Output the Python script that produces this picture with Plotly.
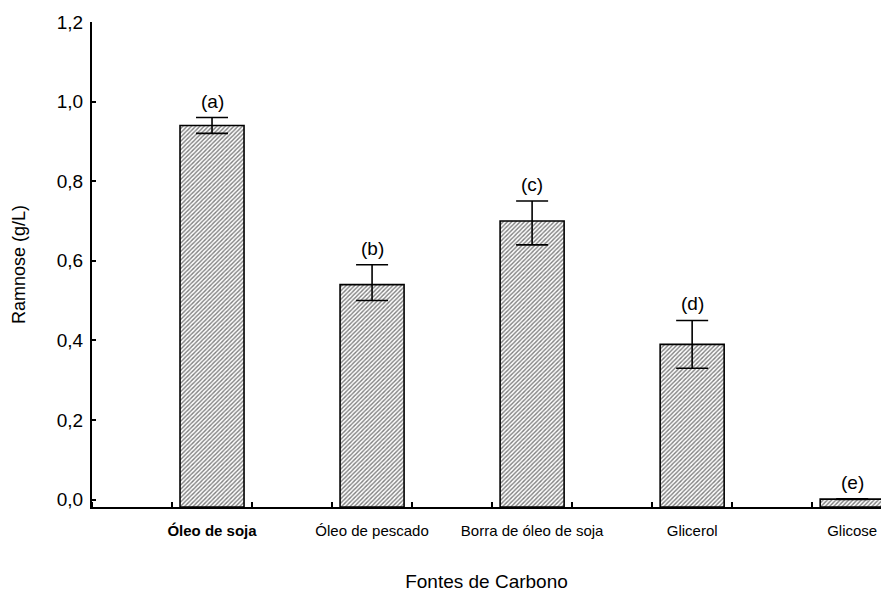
import plotly.graph_objects as go

categories = ["Óleo de soja", "Óleo de pescado", "Borra de óleo de soja", "Glicerol", "Glicose"]
tick_labels = ["<b>Óleo de soja</b>", "Óleo de pescado", "Borra de óleo de soja", "Glicerol", "Glicose"]
values = [0.94, 0.54, 0.70, 0.39, 0.001]
err_plus = [0.02, 0.05, 0.05, 0.06, 0.001]
err_minus = [0.02, 0.04, 0.06, 0.06, 0.001]
letters = ["(a)", "(b)", "(c)", "(d)", "(e)"]
y_ticks = [0.0, 0.2, 0.4, 0.6, 0.8, 1.0, 1.2]

YMIN = -0.0188
YMAX = 1.2
FONT = "Liberation Sans, Arial, sans-serif"

xs = list(range(len(categories)))

fig = go.Figure()
fig.add_trace(go.Bar(
    x=xs,
    y=[v - YMIN for v in values],
    base=YMIN,
    width=0.4,
    marker=dict(
        color="white",
        line=dict(color="black", width=1.6),
        pattern=dict(shape="/", size=3, solidity=0.45, fgcolor="black", bgcolor="white"),
    ),
    error_y=dict(type="data", array=err_plus, arrayminus=err_minus, symmetric=False,
                 color="black", thickness=1.6, width=16),
    hovertext=categories,
    showlegend=False,
))

for x, v, ep, lab in zip(xs, values, err_plus, letters):
    fig.add_annotation(x=x, y=v + ep, text=lab, showarrow=False, yanchor="bottom",
                       yshift=4, font=dict(family=FONT, size=19, color="black"))

fig.update_layout(
    width=881, height=594,
    margin=dict(l=92, r=0, t=22, b=87),
    plot_bgcolor="white", paper_bgcolor="white",
    separators=",.",
    font=dict(family=FONT, color="black"),
    bargap=0.6,
)
fig.update_xaxes(
    range=[-0.75, 4.18],
    tickmode="array", tickvals=xs, ticktext=tick_labels,
    ticks="", tickfont=dict(size=15, family=FONT), ticklabelstandoff=9,
    showline=True, linecolor="black", linewidth=2, mirror=False,
    showgrid=False, zeroline=False,
    minor=dict(tick0=0.25, dtick=0.5, ticks="inside", ticklen=5, tickwidth=1.5, tickcolor="black", showgrid=False),
    title=dict(text="Fontes de Carbono", font=dict(size=19, family=FONT), standoff=37),
)
fig.update_yaxes(
    range=[YMIN, YMAX],
    tickmode="array", tickvals=y_ticks, tickformat=".1f",
    ticks="inside", ticklen=4, tickwidth=1.5, tickcolor="black",
    tickfont=dict(size=19, family=FONT), ticklabelstandoff=3,
    showline=True, linecolor="black", linewidth=2,
    showgrid=False, zeroline=False,
    title=dict(text="Ramnose (g/L)", font=dict(size=18, family=FONT), standoff=26),
)

fig.write_html("out.html")
